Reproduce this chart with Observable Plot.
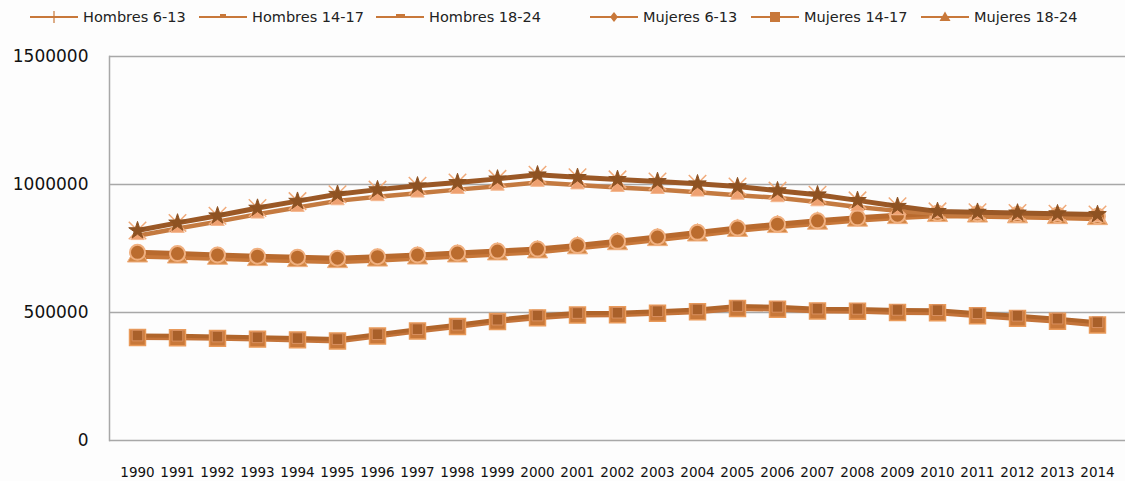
<!DOCTYPE html>
<html>
<head>
<meta charset="utf-8">
<script src="https://cdn.jsdelivr.net/npm/d3@7"></script>
<script src="https://cdn.jsdelivr.net/npm/@observablehq/plot@0.6"></script>
<style>
  html, body { margin: 0; padding: 0; background: #fdfdfd; }
  #legend { position: relative; height: 40px; font-family: "DejaVu Sans", sans-serif; font-size: 14.5px; color: #222; }
  .item { position: absolute; top: 8px; display: flex; align-items: center; white-space: nowrap; }
  .item svg { margin-right: 5px; }
  #chart svg { display: block; }
</style>
</head>
<body>
<div id="legend"></div>
<div id="chart"></div>
<script>
const years = [1990,1991,1992,1993,1994,1995,1996,1997,1998,1999,2000,2001,2002,2003,2004,2005,2006,2007,2008,2009,2010,2011,2012,2013,2014];

const seriesNames = ["Hombres 6-13","Hombres 14-17","Hombres 18-24","Mujeres 6-13","Mujeres 14-17","Mujeres 18-24"];

const hombres613 = [820000,850000,878000,908000,935000,962000,980000,995000,1008000,1022000,1038000,1028000,1020000,1012000,1003000,992000,976000,960000,938000,915000,895000,892000,889000,886000,883000];
const mujeres613 = [800000,828000,855000,884000,910000,936000,952000,966000,980000,993000,1008000,998000,988000,980000,970000,958000,948000,932000,912000,897000,885000,881000,878000,875000,871000];
const hombres1824 = [735000,730000,725000,720000,716000,712000,718000,725000,732000,740000,748000,762000,778000,795000,813000,830000,845000,858000,870000,880000,888000,886000,883000,880000,876000];
const mujeres1824 = [720000,716000,711000,706000,702000,698000,704000,712000,720000,728000,736000,752000,768000,784000,802000,820000,835000,848000,860000,870000,878000,876000,873000,870000,866000];
const hombres1417 = [410000,409000,406000,403000,400000,396000,415000,435000,452000,472000,488000,498000,499000,505000,512000,525000,522000,515000,514000,510000,509000,497000,487000,476000,462000];
const mujeres1417 = [402000,401000,399000,396000,393000,389000,408000,428000,445000,465000,479000,490000,491000,497000,503000,516000,513000,506000,505000,500000,499000,487000,477000,466000,451000];

const yTicks = [0, 500000, 1000000, 1500000];

const rows = (name, vals) => years.map((y, i) => ({series: name, year: String(y), value: vals[i]}));
const dH613 = rows("Hombres 6-13", hombres613);
const dM613 = rows("Mujeres 6-13", mujeres613);
const dH1824 = rows("Hombres 18-24", hombres1824);
const dM1824 = rows("Mujeres 18-24", mujeres1824);
const dH1417 = rows("Hombres 14-17", hombres1417);
const dM1417 = rows("Mujeres 14-17", mujeres1417);

// Legend
const legendColor = "#c8783a";
const legendMarks = {
  "Hombres 6-13": `<line x1="24" x2="24" y1="3" y2="15" stroke="${legendColor}" stroke-width="1.2"/>`,
  "Hombres 14-17": `<rect x="21" y="6" width="6" height="3" fill="${legendColor}"/>`,
  "Hombres 18-24": `<rect x="20" y="6" width="9" height="3" fill="${legendColor}"/>`,
  "Mujeres 6-13": `<path d="M24 4 L28 9 L24 14 L20 9 Z" fill="${legendColor}"/>`,
  "Mujeres 14-17": `<rect x="19" y="4" width="10" height="10" fill="${legendColor}"/>`,
  "Mujeres 18-24": `<path d="M24 3.5 L29.5 13 L18.5 13 Z" fill="${legendColor}"/>`
};
const legendLeft = [30, 199, 376, 590, 751, 921];
const legend = document.getElementById("legend");
seriesNames.forEach((name, i) => {
  const div = document.createElement("div");
  div.className = "item";
  div.style.left = legendLeft[i] + "px";
  div.innerHTML = `<svg width="48" height="18"><line x1="0" x2="48" y1="9" y2="9" stroke="${legendColor}" stroke-width="2"/>${legendMarks[name]}</svg><span>${name}</span>`;
  legend.appendChild(div);
});

const chart = Plot.plot({
  width: 1125,
  height: 441,
  marginLeft: 109,
  marginRight: 0,
  marginTop: 16,
  marginBottom: 41,
  style: {background: "transparent", color: "#111"},
  x: {type: "point", domain: years.map(String), padding: 0.5, label: null},
  y: {domain: [0, 1500000], label: null},
  marks: [
    Plot.ruleY(yTicks, {stroke: "#a8a8a8", strokeWidth: 1.5}),
    Plot.frame({anchor: "left", stroke: "#a8a8a8", strokeWidth: 1.5}),
    Plot.axisY({ticks: yTicks, tickSize: 0, tickPadding: 21, tickFormat: d => String(d), fontSize: 17, fontFamily: "DejaVu Sans", fill: "#111", label: null}),
    Plot.axisX({tickSize: 0, tickPadding: 27, fontSize: 13.5, fontFamily: "DejaVu Sans", fill: "#111", label: null}),

    // 14-17 group
    Plot.line(dM1417, {x: "year", y: "value", stroke: "#c4743a", strokeWidth: 5}),
    Plot.line(dH1417, {x: "year", y: "value", stroke: "#b0652b", strokeWidth: 4}),
    Plot.dot(dM1417, {x: "year", y: "value", symbol: "square", r: 9, fill: "#c8783a", stroke: "#e99a5a", strokeWidth: 1.5}),
    Plot.dot(dH1417, {x: "year", y: "value", symbol: "square", r: 6, fill: "#a9602a", stroke: "#d99060", strokeWidth: 1}),

    // 18-24 group
    Plot.line(dM1824, {x: "year", y: "value", stroke: "#c8783a", strokeWidth: 5}),
    Plot.line(dH1824, {x: "year", y: "value", stroke: "#b86a2e", strokeWidth: 5}),
    Plot.dot(dM1824, {x: "year", y: "value", symbol: "triangle", r: 7.5, fill: "#d48846", stroke: "#f0b080", strokeWidth: 1}),
    Plot.dot(dH1824, {x: "year", y: "value", symbol: "circle", r: 7.5, fill: "#bb6c2e", stroke: "#f0b080", strokeWidth: 2}),

    // 6-13 group
    Plot.line(dM613, {x: "year", y: "value", stroke: "#c47a40", strokeWidth: 4.5}),
    Plot.dot(dM613, {x: "year", y: "value", symbol: "triangle", r: 5, fill: "#eea070", stroke: "#f4b890", strokeWidth: 1}),
    Plot.line(dH613, {x: "year", y: "value", stroke: "#9a5826", strokeWidth: 5}),
    Plot.dot(dH613, {x: "year", y: "value", symbol: "times", r: 8, stroke: "#f0aa7a", strokeWidth: 1.5}),
    Plot.dot(dH613, {x: "year", y: "value", symbol: "star", r: 5.5, fill: "#8e5222", stroke: "#8e5222", strokeWidth: 1})
  ]
});
document.getElementById("chart").appendChild(chart);
</script>
</body>
</html>
